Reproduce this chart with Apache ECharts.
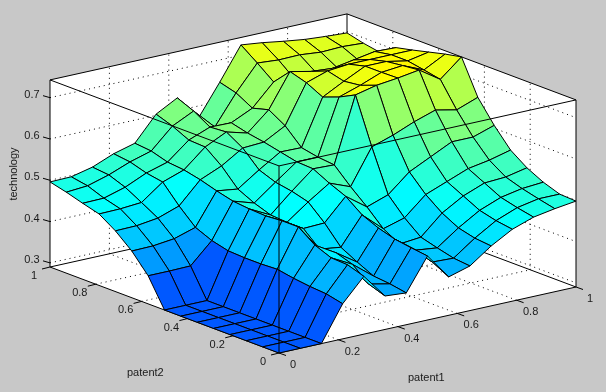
<!DOCTYPE html>
<html><head><meta charset="utf-8">
<style>html,body{margin:0;padding:0;background:#c8c8c8}#c{width:606px;height:392px}</style>
<script src="https://cdn.jsdelivr.net/npm/echarts@6/dist/echarts.min.js"></script>
</head><body><div id="c"></div>
<script>
// technology value at each patent2 step (0..14), one array per patent1 step
const p1s00=[.29,.29,.29,.29,.29,.29,.29,.29,.358,.403,.437,.463,.474,.486,.496];
const p1s01=[.29,.29,.29,.29,.29,.29,.29,.29,.358,.404,.438,.464,.475,.49,.497];
const p1s02=[.29,.29,.29,.29,.29,.29,.29,.29,.359,.41,.445,.468,.49,.505,.509];
const p1s03=[.375,.384,.387,.392,.399,.397,.397,.399,.409,.426,.463,.506,.513,.525,.53];
const p1s04=[.43,.443,.445,.461,.49,.49,.487,.489,.493,.503,.515,.524,.528,.54,.544];
const p1s05=[.371,.385,.418,.431,.425,.46,.46,.463,.477,.496,.537,.568,.57,.589,.603];
const p1s06=[.367,.374,.378,.397,.418,.462,.498,.509,.516,.531,.569,.593,.59,.614,.631];
const p1s07=[.445,.45,.456,.468,.485,.515,.532,.552,.554,.563,.572,.579,.589,.564,.571];
const p1s08=[.383,.404,.418,.418,.44,.478,.512,.55,.554,.562,.6,.624,.613,.635,.646];
const p1s09=[.398,.402,.412,.423,.455,.496,.597,.708,.688,.673,.693,.705,.665,.696,.725];
const p1s10=[.435,.439,.449,.47,.5,.54,.614,.72,.705,.7,.71,.694,.66,.692,.719];
const p1s11=[.464,.47,.48,.5,.52,.565,.635,.726,.725,.725,.715,.69,.665,.693,.711];
const p1s12=[.482,.49,.5,.52,.54,.59,.652,.734,.73,.725,.715,.699,.665,.688,.704];
const p1s13=[.491,.5,.51,.523,.549,.59,.641,.7,.708,.715,.715,.708,.672,.69,.7];
const p1s14=[.498,.5,.514,.534,.562,.607,.66,.743,.735,.725,.715,.706,.68,.687,.697];
const surface=[p1s00,p1s01,p1s02,p1s03,p1s04,p1s05,p1s06,p1s07,p1s08,p1s09,p1s10,p1s11,p1s12,p1s13,p1s14];
const patent1Ticks=[0,0.2,0.4,0.6,0.8,1];
const patent2Ticks=[0,0.2,0.4,0.6,0.8,1];
const technologyTicks=[0.3,0.4,0.5,0.6,0.7];
const zMin=0.29, zMax=0.743;

// oblique view of the unit box, expressed in the hidden plane axes
const view={ox:279,oy:353,p1x:297,p1y:-66,p2x:-229,p2y:-86,zy:-413};
function proj(p1,p2,z){return [view.ox+view.p1x*p1+view.p2x*p2, view.oy+view.p1y*p1+view.p2y*p2+view.zy*(z-zMin)];}
function jet(t){const c=v=>Math.round(255*Math.max(0,Math.min(1,v)));
  return `rgb(${c(1.5-Math.abs(4*t-3))},${c(1.5-Math.abs(4*t-2))},${c(1.5-Math.abs(4*t-1))})`;}
function faceColor(z){return jet((z-0.07)/1.04);}

const n=surface.length-1;
const faces=[];
for(let j=n-1;j>=0;j--)for(let i=n-1;i>=0;i--)faces.push([i,j]);

const walls=[
  [[0,1,zMin],[1,1,zMin],[1,1,zMax],[0,1,zMax]],
  [[1,1,zMin],[1,0,zMin],[1,0,zMax],[1,1,zMax]],
  [[0,0,zMin],[1,0,zMin],[1,1,zMin],[0,1,zMin]]];
const backLines=[
  [[0,1,zMin],[1,1,zMin]],[[1,1,zMin],[1,0,zMin]],[[1,1,zMin],[1,1,zMax]],
  [[0,1,zMax],[1,1,zMax]],[[1,1,zMax],[1,0,zMax]],
  [[0,1,zMin],[0,1,zMax]],[[1,0,zMin],[1,0,zMax]],
  [[0,0,zMin],[0,1,zMin]],[[0,0,zMin],[1,0,zMin]]];
const frontLines=[[[0,1,zMax],[0,0,zMax]],[[0,0,zMax],[1,0,zMax]],[[0,0,zMin],[0,0,zMax]]];
const dots=[];
patent1Ticks.slice(1,-1).forEach(v=>{dots.push([[v,0,zMin],[v,1,zMin]]);dots.push([[v,1,zMin],[v,1,zMax]]);});
patent2Ticks.slice(1,-1).forEach(v=>{dots.push([[0,v,zMin],[1,v,zMin]]);dots.push([[1,v,zMin],[1,v,zMax]]);});
technologyTicks.forEach(v=>{dots.push([[0,1,v],[1,1,v]]);dots.push([[1,1,v],[1,0,v]]);});

const T='#1a1a1a', F='"Liberation Sans",Arial,sans-serif';
const ticks=[];
patent1Ticks.forEach(v=>ticks.push({from:proj(v,0,zMin),d:[7,2.5],t:String(v),off:[14,12]}));
patent2Ticks.forEach(v=>ticks.push({from:proj(0,v,zMin),d:[-8,2],t:String(v),off:[-16,9]}));
technologyTicks.forEach(v=>ticks.push({from:proj(0,1,v),d:[-7,-2],t:String(v),off:[-18,-3]}));

function lineSeries(list,style,z){
  return {type:'custom',coordinateSystem:'cartesian2d',silent:true,animation:false,z,data:list.map((_,k)=>[k]),
    renderItem(p,api){const s=list[api.value(0)];
      const a=api.coord(proj(...s[0])),b=api.coord(proj(...s[1]));
      return {type:'line',shape:{x1:a[0],y1:a[1],x2:b[0],y2:b[1]},style};}};
}
const chart=echarts.init(document.getElementById('c'),null,{renderer:'canvas'});
chart.setOption({
  backgroundColor:'#c8c8c8',animation:false,
  grid:{left:0,right:0,top:0,bottom:0,containLabel:false},
  xAxis:{type:'value',min:0,max:606,show:false},
  yAxis:{type:'value',min:0,max:392,inverse:true,show:false},
  graphic:[
    {type:'text',left:127,top:367,style:{text:'patent2',font:'11px '+F,fill:T}},
    {type:'text',left:408,top:372,style:{text:'patent1',font:'11px '+F,fill:T}},
    {type:'text',x:14,y:174,rotation:Math.PI/2,style:{text:'technology',font:'11px '+F,fill:T,align:'center',verticalAlign:'middle'}}
  ],
  series:[
    {type:'custom',coordinateSystem:'cartesian2d',silent:true,animation:false,z:1,data:walls.map((_,k)=>[k]),
     renderItem(p,api){return {type:'polygon',shape:{points:walls[api.value(0)].map(q=>api.coord(proj(...q)))},style:{fill:'#fff'}};}},
    lineSeries(dots,{stroke:'#000',lineWidth:1,lineDash:[1,4]},2),
    lineSeries(backLines,{stroke:'#000',lineWidth:1},3),
    {type:'custom',coordinateSystem:'cartesian2d',silent:true,animation:false,z:4,progressive:0,data:faces,
     renderItem(p,api){const i=api.value(0),j=api.value(1);
       const pt=(a,b)=>api.coord(proj(a/n,b/n,surface[a][b]));
       return {type:'polygon',shape:{points:[pt(i,j),pt(i+1,j),pt(i+1,j+1),pt(i,j+1)]},
         style:{fill:faceColor(surface[i][j]),stroke:'#000',lineWidth:1}};}},
    lineSeries(frontLines,{stroke:'#000',lineWidth:1},5),
    {type:'custom',coordinateSystem:'cartesian2d',silent:true,animation:false,z:6,data:ticks.map((_,k)=>[k]),
     renderItem(p,api){const k=ticks[api.value(0)];
       const a=api.coord(k.from),b=api.coord([k.from[0]+k.d[0],k.from[1]+k.d[1]]);
       const c=api.coord([k.from[0]+k.off[0],k.from[1]+k.off[1]]);
       return {type:'group',children:[
         {type:'line',shape:{x1:a[0],y1:a[1],x2:b[0],y2:b[1]},style:{stroke:'#000',lineWidth:1}},
         {type:'text',x:c[0],y:c[1],style:{text:k.t,font:'11px '+F,fill:T,align:'center',verticalAlign:'middle'}}]};}}
  ]
});
</script></body></html>
